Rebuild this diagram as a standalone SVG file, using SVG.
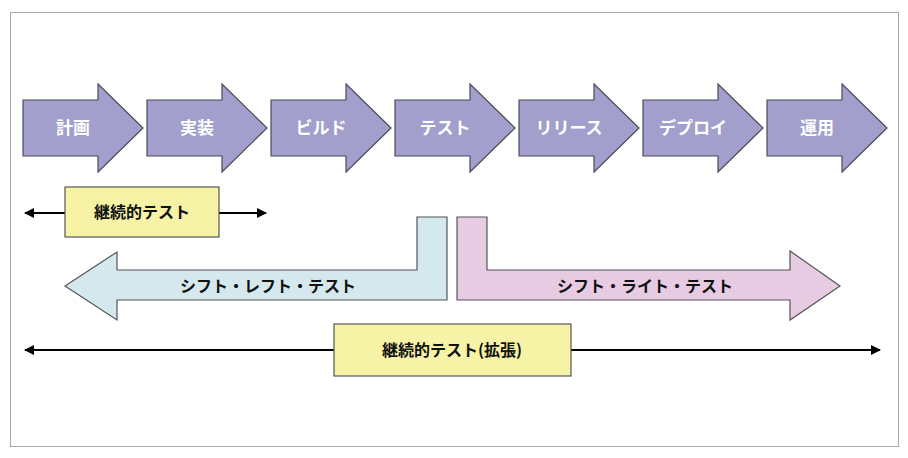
<svg xmlns="http://www.w3.org/2000/svg" width="908" height="458" viewBox="0 0 908 458">
<defs>
<style>
.step{fill:#a29fcc;stroke:#4a4a5a;stroke-width:1.2}
.st{font-family:"Noto Sans CJK JP","Noto Sans",sans-serif;font-size:17px;font-weight:bold;fill:#fff;text-anchor:middle}
.lb{font-family:"Noto Sans CJK JP","Noto Sans",sans-serif;font-size:16px;font-weight:bold;fill:#111;text-anchor:middle}
.box{fill:#f6f3a6;stroke:#555;stroke-width:1.2}
.ln{stroke:#000;stroke-width:2;fill:none}
</style>
<marker id="ah" viewBox="0 0 10 10" refX="9" refY="5" markerWidth="5" markerHeight="5" orient="auto-start-reverse"><path d="M0,0L10,5L0,10Z" fill="#000"/></marker>
<path id="ar" d="M0,100H75V84L120,128L75,172V156H0Z"/>
</defs>
<rect x="10.5" y="12.5" width="888" height="434" fill="#fff" stroke="#aaa"/>
<g id="connectors">
<line class="ln" x1="25" y1="213" x2="266" y2="213" marker-start="url(#ah)" marker-end="url(#ah)"/>
<line class="ln" x1="25" y1="350" x2="880" y2="350" marker-start="url(#ah)" marker-end="url(#ah)"/>
</g>
<g id="n1"><use href="#ar" class="step" x="23"/><text class="st" x="73" y="134">計画</text></g>
<g id="n2"><use href="#ar" class="step" x="147"/><text class="st" x="197" y="134">実装</text></g>
<g id="n3"><use href="#ar" class="step" x="271"/><text class="st" x="321" y="134">ビルド</text></g>
<g id="n4"><use href="#ar" class="step" x="395"/><text class="st" x="445" y="134">テスト</text></g>
<g id="n5"><use href="#ar" class="step" x="519"/><text class="st" x="569" y="134">リリース</text></g>
<g id="n6"><use href="#ar" class="step" x="643"/><text class="st" x="693" y="134">デプロイ</text></g>
<g id="n7"><use href="#ar" class="step" x="767"/><text class="st" x="817" y="134">運用</text></g>
<g id="ct"><rect class="box" x="65" y="187" width="154" height="50"/><text class="lb" x="142" y="218">継続的テスト</text></g>
<g id="sl"><path d="M447,217V300H117V320L65,286L117,252V270H417V217Z" fill="#d4e8ee" stroke="#555" stroke-width="1.2"/><text class="lb" x="268" y="292">シフト・レフト・テスト</text></g>
<g id="sr"><path d="M457,217V300H790V320L840,286L790,251V270H487V217Z" fill="#e6cbe2" stroke="#555" stroke-width="1.2"/><text class="lb" x="645" y="292">シフト・ライト・テスト</text></g>
<g id="cte"><rect class="box" x="334" y="324" width="237" height="52"/><text class="lb" x="452" y="356">継続的テスト(拡張)</text></g>
</svg>
